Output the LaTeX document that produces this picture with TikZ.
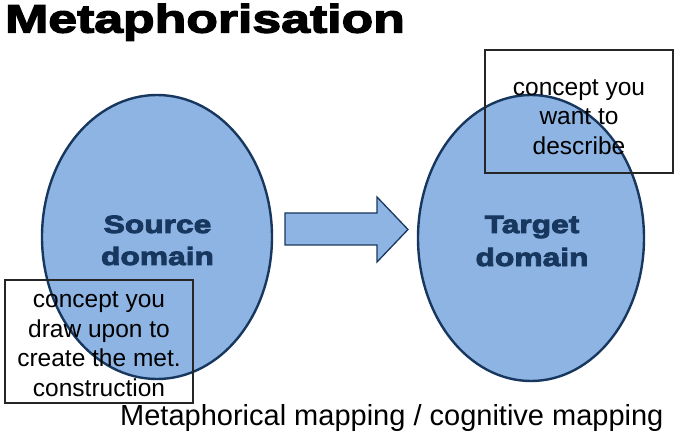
\documentclass[tikz,border=0pt]{standalone}
\usepackage{fontspec}
\setmainfont{Liberation Sans}
\newfontfamily\blackfont[FakeStretch=1.27]{Liberation Sans Bold}
\newfontfamily\titlefont[FakeStretch=1.31]{Liberation Sans Bold}
\newcommand\heavytext[2]{\special{pdf:literal direct 2 Tr #1 w}#2\special{pdf:literal direct 0 Tr}}
\usetikzlibrary{shapes.geometric}
\definecolor{fillblue}{HTML}{8EB4E3}
\definecolor{navy}{HTML}{17375E}
\tikzset{
  domainellipse/.style={ellipse, draw=navy, line width=2.4pt, fill=fillblue, inner sep=0pt},
  domlabel/.style={text=navy, font=\blackfont\fontsize{25}{32}\selectfont, inner sep=0pt, anchor=base},
  notebox/.style={draw=black!85, line width=1.2pt, inner sep=0pt,
    minimum width=188pt, minimum height=123pt},
  notetext/.style={align=center, inner sep=0pt, font=\fontsize{24.5}{29.5}\selectfont},
  blockarrow/.style={draw=navy, line width=1.3pt, fill=fillblue, line join=miter},
}
\begin{document}
\begin{tikzpicture}[x=1pt,y=-1pt]
\useasboundingbox (0,0) rectangle (685,438);
% title
\node[anchor=base west, inner sep=0pt, font=\titlefont\fontsize{39.5}{39.5}\selectfont] (title) at (5,32.5) {\heavytext{1.4}{Metaphorisation}};
% domains
\node[domainellipse, minimum width=230pt, minimum height=284pt] (src) at (157,237) {};
\node[domainellipse, minimum width=226pt, minimum height=286pt] (tgt) at (531,238) {};
% block arrow
\draw[blockarrow] (285,213) -- (377,213) -- (377,197) -- (408,229.5) -- (377,262) -- (377,245) -- (285,245) -- cycle;
% domain labels
\node[domlabel] (srcA) at (157.5,233) {\heavytext{0.9}{Source}};
\node[domlabel] (srcB) at (157.5,265) {\heavytext{0.9}{domain}};
\node[domlabel] (tgtA) at (532,233) {\heavytext{0.9}{Target}};
\node[domlabel] (tgtB) at (532,266) {\heavytext{0.9}{domain}};
% note boxes
\node[notebox] (srcnote) at (99,341.5) {};
\node[notetext] (srctext) at (99,344) {concept you\\draw upon to\\create the met.\\construction};
\node[notebox] (tgtnote) at (579,111.5) {};
\node[notetext] (tgttext) at (579,117) {concept you\\want to\\describe};
% caption
\node[anchor=base west, inner sep=0pt, font=\fontsize{29}{29}\selectfont] (caption) at (120,425) {Metaphorical mapping / cognitive mapping};
\end{tikzpicture}
\end{document}
